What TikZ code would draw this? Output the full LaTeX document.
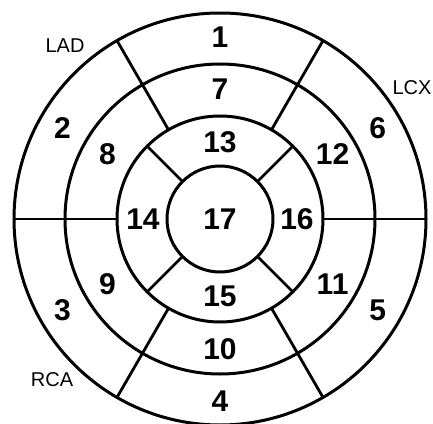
\documentclass[tikz,border=0pt]{standalone}
\usepackage{fontspec}
\setmainfont{Liberation Sans}
\usepackage{tikz}
\usetikzlibrary{positioning}
\definecolor{beInk}{HTML}{000000}
\tikzset{
  % ring outlines
  ring/.style={draw=beInk,line width=3pt},
  % segment borders
  segline/.style={draw=beInk,line width=2.8pt},
  % segment numbers
  segnum/.style={font=\fontsize{30}{30}\selectfont\bfseries,
    text=beInk,inner sep=0pt},
  % artery labels
  artery/.style={font=\fontsize{20}{20}\selectfont,
    text=beInk,inner sep=0pt},
}

\begin{document}
\begin{tikzpicture}[x=1pt,y=1pt]
  \useasboundingbox (-220,-204) rectangle (213,219);
  \clip (-220,-204) rectangle (213,219);
  \coordinate (c) at (0,0);

  % rings
  \draw[ring] (c) circle (206);
  \draw[ring] (c) circle (155);
  \draw[ring] (c) circle (103);
  \draw[ring] (c) circle (53);

  % basal and mid borders
  \foreach \a in {0,60,120,180,240,300}
    \draw[segline] (\a:103) -- (\a:206);
  % apical borders
  \foreach \a in {45,135,225,315}
    \draw[segline] (\a:53) -- (\a:103);

  % basal segments
  \foreach \n/\a in {1/90,2/150,3/210,4/270,5/330,6/30}
    \node[segnum] (s\n) at (\a:182) {\n};
  % mid segments
  \foreach \n/\a in {7/90,8/150,9/210,10/270,11/330,12/30}
    \node[segnum] (s\n) at (\a:130) {\n};
  % apical segments
  \foreach \n/\a in {13/90,14/180,15/270,16/0}
    \node[segnum] (s\n) at (\a:77) {\n};
  \node[segnum] (s17) at (c) {17};

  % arteries
  \node[artery] (lad) at (-155,173) {LAD};
  \node[artery] (lcx) at (192,131) {LCX};
  \node[artery] (rca) at (-168,-161) {RCA};
\end{tikzpicture}
\end{document}
